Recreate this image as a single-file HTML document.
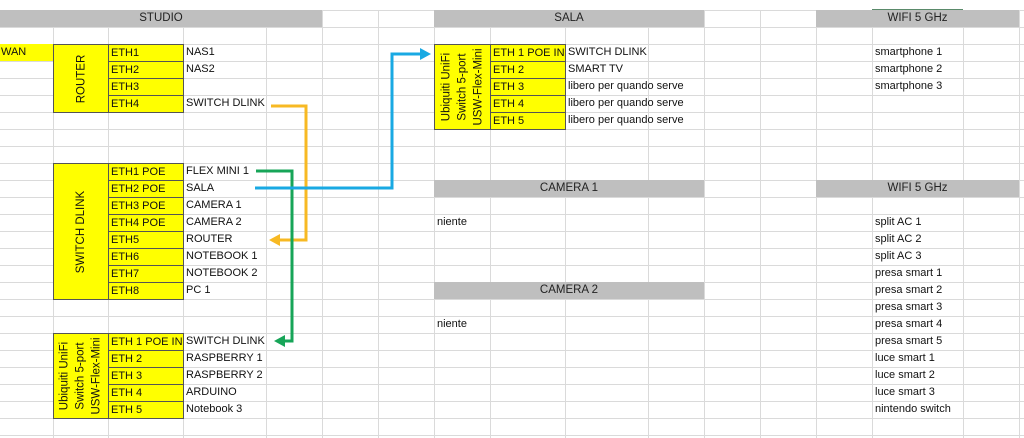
<!DOCTYPE html>
<html><head><meta charset="utf-8"><style>
*{margin:0;padding:0;box-sizing:border-box}
body{width:1024px;height:438px;overflow:hidden;background:#fff;position:relative;font-family:"Liberation Sans",sans-serif;font-size:11px;color:#111}
.bg{position:absolute;left:0;top:10px;width:1024px;height:428px;background:repeating-linear-gradient(to bottom,#dadada 0,#dadada 1px,transparent 1px,transparent 17px)}
.v{position:absolute;top:10px;height:428px;width:1px;background:#dadada}
.h{position:absolute;height:17px;background:#bfbfbf;text-align:center;line-height:17px;font-size:11.5px;color:#222}
.y{position:absolute;background:#ffff00;border:1px solid #555}
.c{position:absolute;height:17px;line-height:17px;padding-left:3px;white-space:nowrap}
.yc{position:absolute;height:18px;line-height:17px;padding-left:2px;background:#ffff00;border:1px solid #555;white-space:nowrap}
.rot{position:absolute;display:flex;align-items:center;justify-content:center}
.rot div{transform:rotate(-90deg);white-space:nowrap;text-align:center;line-height:16px;font-size:11.5px}
</style></head><body>
<div class="bg"></div>
<div class="v" style="left:53px"></div><div class="v" style="left:108px"></div><div class="v" style="left:183px"></div><div class="v" style="left:266px"></div><div class="v" style="left:322px"></div><div class="v" style="left:378px"></div><div class="v" style="left:434px"></div><div class="v" style="left:490px"></div><div class="v" style="left:565px"></div><div class="v" style="left:648px"></div><div class="v" style="left:704px"></div><div class="v" style="left:760px"></div><div class="v" style="left:816px"></div><div class="v" style="left:872px"></div><div class="v" style="left:963px"></div><div class="v" style="left:1019px"></div>
<div style="position:absolute;left:872px;top:9px;width:91px;height:2px;background:#5a8a6a"></div>

<div class="h" style="left:0;top:10px;width:322px">STUDIO</div>
<div class="h" style="left:434px;top:10px;width:270px">SALA</div>
<div class="h" style="left:816px;top:10px;width:203px">WIFI 5 GHz</div>
<div class="h" style="left:434px;top:180px;width:270px">CAMERA 1</div>
<div class="h" style="left:816px;top:180px;width:203px">WIFI 5 GHz</div>
<div class="h" style="left:434px;top:282px;width:270px">CAMERA 2</div>

<!-- WAN -->
<div style="position:absolute;left:0;top:44px;width:53px;height:17px;background:#ffff00;line-height:17px;padding-left:1px">WAN</div>
<!-- Router -->
<div class="y rot" style="left:53px;top:44px;width:56px;height:69px"><div>ROUTER</div></div>
<div class="yc" style="left:108px;top:44px;width:76px">ETH1</div>
<div class="yc" style="left:108px;top:61px;width:76px">ETH2</div>
<div class="yc" style="left:108px;top:78px;width:76px">ETH3</div>
<div class="yc" style="left:108px;top:95px;width:76px">ETH4</div>
<div class="c" style="left:183px;top:44px">NAS1</div>
<div class="c" style="left:183px;top:61px">NAS2</div>
<div class="c" style="left:183px;top:95px">SWITCH DLINK</div>

<!-- Switch Dlink -->
<div class="y rot" style="left:53px;top:163px;width:56px;height:137px"><div>SWITCH DLINK</div></div>
<div class="yc" style="left:108px;top:163px;width:76px">ETH1 POE</div>
<div class="yc" style="left:108px;top:180px;width:76px">ETH2 POE</div>
<div class="yc" style="left:108px;top:197px;width:76px">ETH3 POE</div>
<div class="yc" style="left:108px;top:214px;width:76px">ETH4 POE</div>
<div class="yc" style="left:108px;top:231px;width:76px">ETH5</div>
<div class="yc" style="left:108px;top:248px;width:76px">ETH6</div>
<div class="yc" style="left:108px;top:265px;width:76px">ETH7</div>
<div class="yc" style="left:108px;top:282px;width:76px">ETH8</div>
<div class="c" style="left:183px;top:163px">FLEX MINI 1</div>
<div class="c" style="left:183px;top:180px">SALA</div>
<div class="c" style="left:183px;top:197px">CAMERA 1</div>
<div class="c" style="left:183px;top:214px">CAMERA 2</div>
<div class="c" style="left:183px;top:231px">ROUTER</div>
<div class="c" style="left:183px;top:248px">NOTEBOOK 1</div>
<div class="c" style="left:183px;top:265px">NOTEBOOK 2</div>
<div class="c" style="left:183px;top:282px">PC 1</div>

<!-- Flex mini studio -->
<div class="y rot" style="left:53px;top:333px;width:56px;height:86px"><div>Ubiquiti UniFi<br>Switch 5-port<br>USW-Flex-Mini</div></div>
<div class="yc" style="left:108px;top:333px;width:76px">ETH 1 POE IN</div>
<div class="yc" style="left:108px;top:350px;width:76px">ETH 2</div>
<div class="yc" style="left:108px;top:367px;width:76px">ETH 3</div>
<div class="yc" style="left:108px;top:384px;width:76px">ETH 4</div>
<div class="yc" style="left:108px;top:401px;width:76px">ETH 5</div>
<div class="c" style="left:183px;top:333px">SWITCH DLINK</div>
<div class="c" style="left:183px;top:350px">RASPBERRY 1</div>
<div class="c" style="left:183px;top:367px">RASPBERRY 2</div>
<div class="c" style="left:183px;top:384px">ARDUINO</div>
<div class="c" style="left:183px;top:401px">Notebook 3</div>

<!-- Sala flex mini -->
<div class="y rot" style="left:434px;top:44px;width:57px;height:86px"><div>Ubiquiti UniFi<br>Switch 5-port<br>USW-Flex-Mini</div></div>
<div class="yc" style="left:490px;top:44px;width:76px">ETH 1 POE IN</div>
<div class="yc" style="left:490px;top:61px;width:76px">ETH 2</div>
<div class="yc" style="left:490px;top:78px;width:76px">ETH 3</div>
<div class="yc" style="left:490px;top:95px;width:76px">ETH 4</div>
<div class="yc" style="left:490px;top:112px;width:76px">ETH 5</div>
<div class="c" style="left:565px;top:44px">SWITCH DLINK</div>
<div class="c" style="left:565px;top:61px">SMART TV</div>
<div class="c" style="left:565px;top:78px">libero per quando serve</div>
<div class="c" style="left:565px;top:95px">libero per quando serve</div>
<div class="c" style="left:565px;top:112px">libero per quando serve</div>

<div class="c" style="left:434px;top:214px">niente</div>
<div class="c" style="left:434px;top:316px">niente</div>

<div class="c" style="left:872px;top:44px">smartphone 1</div>
<div class="c" style="left:872px;top:61px">smartphone 2</div>
<div class="c" style="left:872px;top:78px">smartphone 3</div>
<div class="c" style="left:872px;top:214px">split AC 1</div>
<div class="c" style="left:872px;top:231px">split AC 2</div>
<div class="c" style="left:872px;top:248px">split AC 3</div>
<div class="c" style="left:872px;top:265px">presa smart 1</div>
<div class="c" style="left:872px;top:282px">presa smart 2</div>
<div class="c" style="left:872px;top:299px">presa smart 3</div>
<div class="c" style="left:872px;top:316px">presa smart 4</div>
<div class="c" style="left:872px;top:333px">presa smart 5</div>
<div class="c" style="left:872px;top:350px">luce smart 1</div>
<div class="c" style="left:872px;top:367px">luce smart 2</div>
<div class="c" style="left:872px;top:384px">luce smart 3</div>
<div class="c" style="left:872px;top:401px">nintendo switch</div>

<svg style="position:absolute;left:0;top:0" width="1024" height="438">
<polyline points="271,106 306,106 306,240 280,240" fill="none" stroke="#f7b923" stroke-width="3"/>
<polygon points="269,240 280,234 280,246" fill="#f7b923"/>
<polyline points="256,171 292,171 292,341 285,341" fill="none" stroke="#17a558" stroke-width="3"/>
<polygon points="274,341 285,335 285,347" fill="#17a558"/>
<polyline points="255,188 392,188 392,54 421,54" fill="none" stroke="#19a9e3" stroke-width="3"/>
<polygon points="431,54 420,48 420,60" fill="#19a9e3"/>
</svg>
</body></html>
